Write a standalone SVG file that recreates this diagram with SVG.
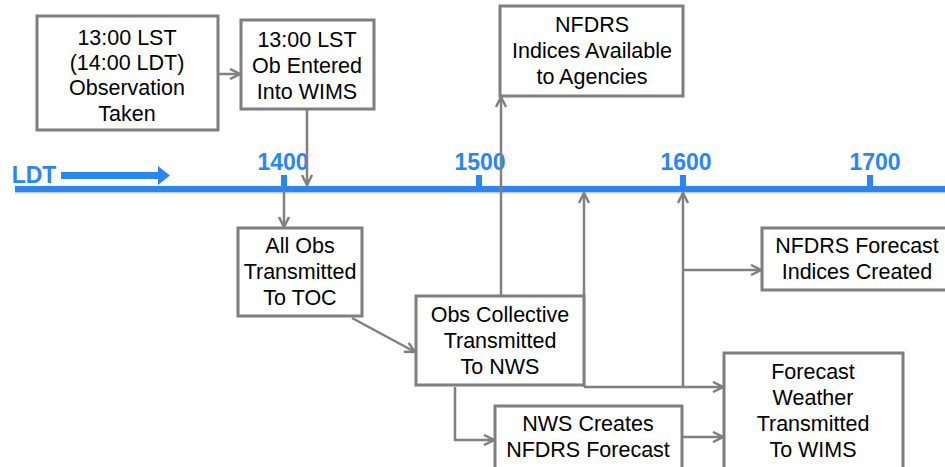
<svg xmlns="http://www.w3.org/2000/svg" width="945" height="467" viewBox="0 0 945 467">
<style>
.box{fill:#fff;stroke:#7f7f7f;stroke-width:3}
.t{font-family:"Liberation Sans",Arial,sans-serif;font-size:21.5px;fill:#000;text-anchor:middle}
.ax{font-family:"Liberation Sans",Arial,sans-serif;font-size:23px;font-weight:bold;fill:#2a86f7;text-anchor:middle}
.c{fill:none;stroke:#808080;stroke-width:2.5}
</style>
<defs>
<marker id="ah" viewBox="0 0 10 10" refX="9" refY="5" markerWidth="5" markerHeight="5" orient="auto" markerUnits="strokeWidth">
<path d="M1,1 L9,5 L1,9" fill="none" stroke="#808080" stroke-width="2"/>
</marker>
</defs>
<g id="axis">
<line x1="15" y1="191" x2="945" y2="191" stroke="#c8c8c8" stroke-width="5"/>
<line x1="15" y1="189" x2="945" y2="189" stroke="#2a86f7" stroke-width="6"/>
<rect x="281" y="175" width="6" height="14" fill="#2a86f7"/>
<rect x="476" y="175" width="6" height="14" fill="#2a86f7"/>
<rect x="680" y="175" width="6" height="14" fill="#2a86f7"/>
<rect x="867" y="175" width="6" height="14" fill="#2a86f7"/>
<text class="ax" x="283" y="170">1400</text>
<text class="ax" x="480" y="170">1500</text>
<text class="ax" x="686" y="170">1600</text>
<text class="ax" x="875" y="170">1700</text>
<text class="ax" x="34" y="183" font-size="22">LDT</text>
<rect x="61" y="172" width="99" height="7" fill="#2a86f7"/>
<path d="M158,166 L170,175.5 L158,185 Z" fill="#2a86f7"/>
</g>
<g id="connectors">
<line class="c" x1="218" y1="74" x2="240" y2="74" marker-end="url(#ah)"/>
<line class="c" x1="307" y1="109" x2="307" y2="185" marker-end="url(#ah)"/>
<line class="c" x1="284" y1="191" x2="284" y2="227" marker-end="url(#ah)"/>
<line class="c" x1="352" y1="318" x2="415" y2="352" marker-end="url(#ah)"/>
<line class="c" x1="501" y1="296" x2="501" y2="97" marker-end="url(#ah)"/>
<polyline class="c" points="584,387 584,193" marker-end="url(#ah)"/>
<line class="c" x1="584" y1="387" x2="723" y2="387" marker-end="url(#ah)"/>
<line class="c" x1="683" y1="387" x2="683" y2="193" marker-end="url(#ah)"/>
<line class="c" x1="683" y1="270" x2="761" y2="270" marker-end="url(#ah)"/>
<polyline class="c" points="455,387 455,440 494,440" marker-end="url(#ah)"/>
<line class="c" x1="682" y1="437" x2="723" y2="437" marker-end="url(#ah)"/>
</g>
<g id="n1"><rect class="box" x="37" y="16" width="181" height="114"/>
<text class="t" x="127" y="45">13:00 LST</text><text class="t" x="127" y="70">(14:00 LDT)</text><text class="t" x="127" y="95">Observation</text><text class="t" x="127" y="121">Taken</text></g>
<g id="n2"><rect class="box" x="241" y="20" width="133" height="89"/>
<text class="t" x="307" y="47">13:00 LST</text><text class="t" x="307" y="73">Ob Entered</text><text class="t" x="307" y="99">Into WIMS</text></g>
<g id="n3"><rect class="box" x="500" y="6" width="183" height="90"/>
<text class="t" x="592" y="32">NFDRS</text><text class="t" x="592" y="58">Indices Available</text><text class="t" x="592" y="84">to Agencies</text></g>
<g id="n4"><rect class="box" x="238" y="228" width="124" height="88"/>
<text class="t" x="300" y="253">All Obs</text><text class="t" x="300" y="279">Transmitted</text><text class="t" x="300" y="305">To TOC</text></g>
<g id="n5"><rect class="box" x="416" y="296" width="168" height="89"/>
<text class="t" x="500" y="322">Obs Collective</text><text class="t" x="500" y="348">Transmitted</text><text class="t" x="500" y="374">To NWS</text></g>
<g id="n6"><rect class="box" x="762" y="228" width="190" height="62"/>
<text class="t" x="857" y="253">NFDRS Forecast</text><text class="t" x="857" y="279">Indices Created</text></g>
<g id="n7"><rect class="box" x="495" y="406" width="187" height="70"/>
<text class="t" x="588" y="431">NWS Creates</text><text class="t" x="588" y="457">NFDRS Forecast</text></g>
<g id="n8"><rect class="box" x="724" y="353" width="179" height="125"/>
<text class="t" x="813" y="379">Forecast</text><text class="t" x="813" y="405">Weather</text><text class="t" x="813" y="431">Transmitted</text><text class="t" x="813" y="457">To WIMS</text></g>
</svg>
